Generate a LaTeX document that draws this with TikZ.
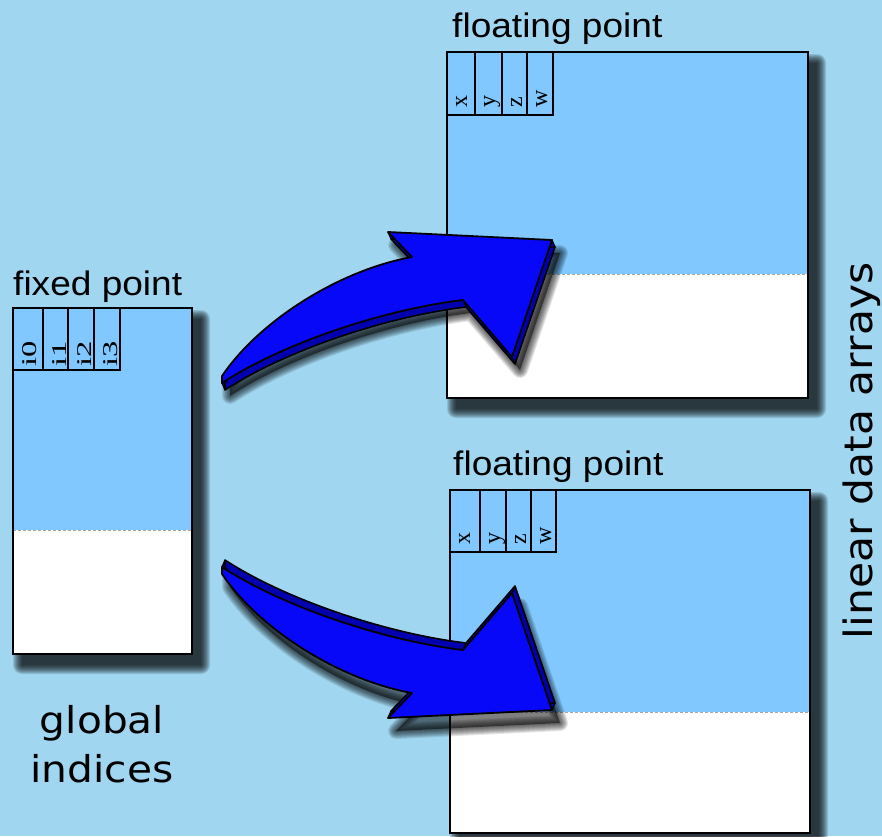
\documentclass[tikz,border=0pt]{standalone}
\usepackage{fontspec}
\setmainfont{Liberation Sans}
\newfontfamily\dejavu{DejaVu Sans}
\newfontfamily\tnr{Liberation Serif}
\definecolor{bg}{HTML}{A0D6F0}
\definecolor{boxblue}{HTML}{80C8FF}
\definecolor{arrface}{HTML}{0808F8}
\definecolor{arrside}{HTML}{0000B0}
\newcommand{\arrowshape}{(222,376) .. controls (260,320) and (340,270) .. (412,257) -- (388,232) -- (552,240) -- (512,357) -- (463,300) .. controls (380,310) and (280,345) .. (222,383) -- cycle}
\newcommand{\blurshadow}[4]{%
  \foreach \k in {0,...,9}{%
    \fill[black, opacity=0.12, rounded corners=\k pt] ({#1+9-\k},{#2+11-\k}) rectangle ({#3+9+\k},{#4+11+\k});
  }}
\newcommand{\membox}[5]{%
  \blurshadow{#1}{#2}{#3}{#4}
  \fill[boxblue] (#1,#2) rectangle (#3,#5);
  \fill[white] (#1,#5) rectangle (#3,#4);
  \draw[gray!70, dash pattern=on 3pt off 2pt, line width=0.8pt] (#1,#5) -- (#3,#5);
  \draw[line width=1.4pt] (#1,#2) rectangle (#3,#4);
}
\newcommand{\arrowshadow}{%
  \foreach \k in {0,...,7}{%
    \draw[black, opacity=0.1, line width={16-2*\k}, line join=round] \arrowshape;
  }
  \fill[black, opacity=0.5] \arrowshape;
}
\newcommand{\bigarrow}{%
  \foreach \s in {0,0.5,...,7}{%
    \fill[arrside, shift={({3*\s/7},\s)}] \arrowshape;
  }
  \draw[line width=1.6pt, line join=round, shift={(3,7)}] \arrowshape;
  \foreach \p in {(222,383),(552,240),(512,357),(463,300),(388,232)}{%
    \draw[line width=1.3pt] \p -- ++(3,7);
  }
  \fill[arrface] \arrowshape;
  \draw[line width=1.8pt, line join=round] \arrowshape;
}
\begin{document}
\begin{tikzpicture}[x=1pt,y=-1pt,
  lbl/.style={inner sep=0pt, font=\fontsize{34}{40}\selectfont, xscale=1.09},
  big/.style={inner sep=0pt, font=\dejavu\fontsize{37}{44}\selectfont, xscale=1.1},
  cell/.style={inner sep=0pt, font=\tnr\fontsize{24}{28}\selectfont, rotate=90, anchor=base west},
  icell/.style={inner sep=0pt, font=\tnr\fontsize{21}{24}\selectfont, rotate=90, xscale=1.55, anchor=base west},
  cellline/.style={line width=1.3pt}]
\useasboundingbox (0,0) rectangle (882,836);
\fill[bg] (0,0) rectangle (882,836);

% boxes
\membox{13}{308}{192}{654}{530}
\membox{447}{52}{808}{398}{274}
\membox{450}{490}{810}{833}{712}

% cells fixed point
\foreach \a/\b/\t in {13/43/i0,43/68/i1,68/94/i2,94/120/i3}{
  \draw[cellline] (\a,308) rectangle (\b,370);
  \node[icell] (c\t) at ({\a+23},367) {\t};
}
% cells top floating
\foreach \a/\b/\t in {447/475/x,475/502/y,502/527/z,527/553/w}{
  \draw[cellline] (\a,52) rectangle (\b,115);
  \node[cell] (t\t) at ({\a+20},108) {\t};
}
% cells bottom floating
\foreach \a/\b/\t in {450/480/x,480/506/y,506/531/z,531/556/w}{
  \draw[cellline] (\a,490) rectangle (\b,552);
  \node[cell] (b\t) at ({\a+20},545) {\t};
}

% arrows shadows
\begin{scope}[shift={(8,13)}]
  \arrowshadow
\end{scope}
\begin{scope}[shift={(8,13)}, yshift=-950pt, yscale=-1]
  \arrowshadow
\end{scope}
% arrows
\begin{scope}
  \bigarrow
\end{scope}
\begin{scope}[yshift=-950pt, yscale=-1]
  \bigarrow
\end{scope}

% labels
\node[lbl, anchor=base west] (fixed) at (13,295) {fixed point};
\node[lbl, anchor=base west] (flt1) at (452,37) {floating point};
\node[lbl, anchor=base west] (flt2) at (453,475) {floating point};
\node[big, anchor=base] (global) at (102,733) {global};
\node[big, anchor=base] (indices) at (102,782) {indices};
\node[inner sep=0pt, font=\dejavu\fontsize{39}{44}\selectfont, rotate=90, xscale=1.09, anchor=base] (lin) at (872,451) {linear data arrays};
\end{tikzpicture}
\end{document}
